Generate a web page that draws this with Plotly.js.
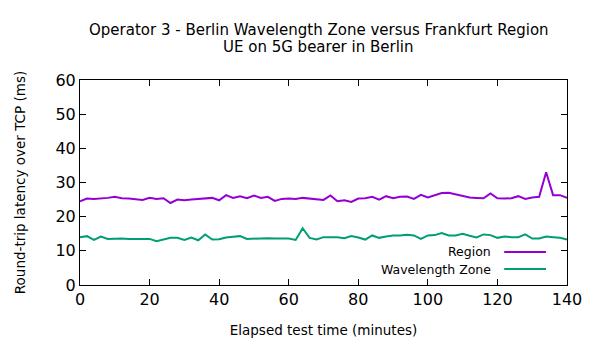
<!DOCTYPE html>
<html><head><meta charset="utf-8">
<script src="https://cdn.plot.ly/plotly-3.0.1.min.js"></script>
<style>body{margin:0;background:#fff}#c{width:600px;height:350px}</style>
</head><body><div id="c"></div><script>
const minutes = [0,2,4,6,8,10,12,14,16,18,20,22,24,26,28,30,32,34,36,38,40,42,44,46,48,50,52,54,56,58,60,62,64,66,68,70,72,74,76,78,80,82,84,86,88,90,92,94,96,98,100,102,104,106,108,110,112,114,116,118,120,122,124,126,128,130,132,134,136,138,140];
const region = [24.5,25.3,25.2,25.3,25.5,25.8,25.4,25.3,25.1,24.9,25.5,25.2,25.4,24.0,25.0,24.8,25.0,25.1,25.3,25.5,24.8,26.3,25.5,26.0,25.4,26.2,25.5,25.8,24.6,25.2,25.3,25.2,25.5,25.3,25.0,24.9,26.2,24.5,24.8,24.3,25.3,25.4,25.8,25.0,26.0,25.4,25.8,25.9,25.2,26.4,25.6,26.3,26.9,27.0,26.5,26.0,25.6,25.5,25.4,26.8,25.4,25.3,25.4,26.0,25.2,25.6,25.8,33.0,26.3,26.3,25.5];
const wavelength = [14.0,14.3,13.2,14.2,13.5,13.6,13.6,13.5,13.6,13.5,13.5,12.8,13.3,13.8,13.8,13.2,13.9,13.1,14.8,13.3,13.4,13.9,14.1,14.3,13.5,13.6,13.6,13.7,13.6,13.7,13.6,13.2,16.6,13.8,13.3,14.0,14.1,14.0,13.7,14.3,13.9,13.3,14.5,13.8,14.2,14.5,14.5,14.7,14.5,13.5,14.5,14.6,15.2,14.5,14.5,15.0,14.4,13.9,14.8,14.6,13.8,14.2,14.0,14.0,14.8,13.6,13.6,14.2,14.0,13.8,13.3];
const seriesNames = ["Region","Wavelength Zone"];
const colors = ["#9400D3","#009E73"];
const xTicks = [0,20,40,60,80,100,120,140];
const yTicks = [0,10,20,30,40,50,60];
const titleLines = ["Operator 3 - Berlin Wavelength Zone versus Frankfurt Region","UE on 5G bearer in Berlin"];

const font = "DejaVu Sans, sans-serif";
const traces = [region, wavelength].map((y,i)=>({
  x: minutes, y: y, type:"scatter", mode:"lines", name: seriesNames[i],
  line:{color:colors[i], width:2}, showlegend:false
}));
const axisCommon = {showgrid:false, zeroline:false, showline:true, mirror:"ticks",
  linecolor:"#000", linewidth:1, ticks:"inside", ticklen:6, tickcolor:"#000",
  tickfont:{family:font, size:16, color:"#000"}};
const annotations = [];
titleLines.forEach((t,i)=>{
  annotations.push({text:t, xref:"paper", yref:"paper", x:0.49, y:[1.244,1.161][i],
    xanchor:"center", yanchor:"middle", showarrow:false, font:{family:font, size:15, color:"#000"}});
});
const shapes = [];
seriesNames.forEach((n,i)=>{
  const yy = [0.161,0.078][i];
  annotations.push({text:n, xref:"paper", yref:"paper", x:0.848, y:yy, xanchor:"right", yanchor:"middle",
    showarrow:false, font:{family:font, size:12.5, color:"#000"}});
  shapes.push({type:"line", xref:"paper", yref:"paper", x0:0.871, x1:0.957, y0:yy, y1:yy,
    line:{color:colors[i], width:2}});
});
const layout = {
  width:600, height:350, margin:{l:80, r:33, t:80, b:65},
  paper_bgcolor:"#fff", plot_bgcolor:"#fff",
  xaxis: Object.assign({}, axisCommon, {range:[0,140], tickvals:xTicks,
    title:{text:"Elapsed test time (minutes)", font:{family:font, size:13.5, color:"#000"}, standoff:17}}),
  yaxis: Object.assign({}, axisCommon, {range:[0,60], tickvals:yTicks,
    title:{text:"Round-trip latency over TCP (ms)", font:{family:font, size:13.5, color:"#000"}, standoff:26}}),
  annotations: annotations, shapes: shapes
};
Plotly.newPlot("c", traces, layout, {staticPlot:true, displayModeBar:false});
</script></body></html>
